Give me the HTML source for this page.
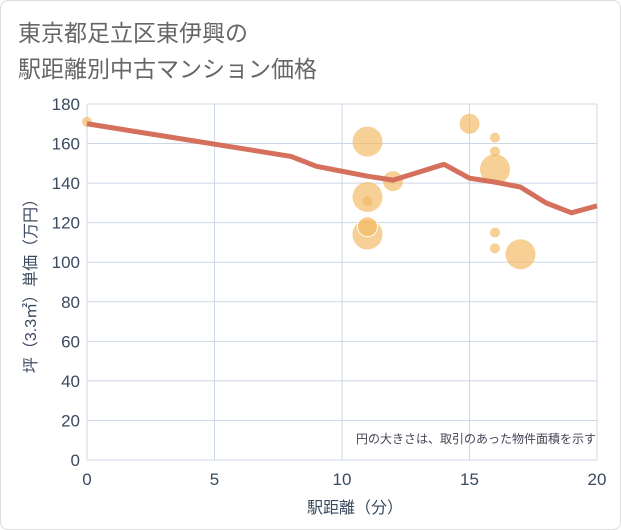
<!DOCTYPE html>
<html><head><meta charset="utf-8"><style>
body{margin:0;background:#fff;font-family:"Liberation Sans","Noto Sans CJK JP",sans-serif;}
#c{position:relative;width:619px;height:528px;border:1px solid #ddd;border-radius:8px;background:#fff;overflow:hidden}
</style></head><body>
<div id="c">
<svg width="621" height="530" id="s" style="position:absolute;left:-1px;top:-1px">
<text x="18" y="41" font-size="23" fill="#666">東京都足立区東伊興の</text>
<text x="18" y="77" font-size="23" fill="#666">駅距離別中古マンション価格</text>
<g id="grid"></g><g id="bubbles"></g><g id="line"></g><g id="axes"></g>
<text x="596" y="443" font-size="12" fill="#445" text-anchor="end">円の大きさは、取引のあった物件面積を示す</text>
<text x="355" y="513" font-size="16" fill="#3a4a60" text-anchor="middle">駅距離（分）</text>
<text transform="translate(36,282) rotate(-90)" font-size="16" fill="#3a4a60" text-anchor="middle">坪（3.3㎡）単価（万円）</text>
</svg></div>
<script>
const xTicks=[0,5,10,15,20];
const yTicks=[0,20,40,60,80,100,120,140,160,180];
const lineX=[0,1,2,3,4,5,6,7,8,9,10,11,12,13,14,15,16,17,18,19,20];
const lineY=[170,168.5,167,165.5,164,162,160,158,156,153.5,148.5,146,143.5,141.5,145.5,149.5,142.5,140.5,138,130,125,128.5];
const lineXs=[0,8,9,10,11,12,13,14,15,16,17,18,19,20];
const lineYs=[170,153.5,148.5,146,143.5,141.5,145.5,149.5,142.5,140.5,138,130,125,128.5];
const bubX=[0,11,11,11,11,11,12,15,16,16,16,16,16,17];
const bubY=[171,161,133,131,114,118,141,170,163,156,147,115,107,104];
const bubR=[5,15,15,5,15,10,10,10,5,5,15,5,5,15];
const NS="http://www.w3.org/2000/svg";
const X=v=>87+v*25.5, Y=v=>460-v*356/180;
function mk(t,a,p){const e=document.createElementNS(NS,t);for(const k in a)e.setAttribute(k,a[k]);p.appendChild(e);return e;}
const g=document.getElementById('grid'),ax=document.getElementById('axes');
yTicks.forEach(v=>{const l=mk('line',{x1:87,x2:597,y1:Y(v),y2:Y(v),stroke:'#cdd8e6','stroke-width':1},g);


const t=mk('text',{x:80,y:Y(v)+6,'font-size':17,fill:'#3a4a60','text-anchor':'end'},ax);t.textContent=v;

});
xTicks.forEach(v=>{const l=mk('line',{x1:X(v),x2:X(v),y1:104,y2:460,stroke:'#cdd8e6','stroke-width':1},g);


const t=mk('text',{x:X(v),y:485,'font-size':17,fill:'#3a4a60','text-anchor':'middle'},ax);t.textContent=v;

});
const b=document.getElementById('bubbles');
bubX.forEach((v,i)=>{const c=mk('circle',{cx:X(v),cy:Y(bubY[i]),r:bubR[i],fill:'#f3b75e','fill-opacity':0.65,stroke:bubR[i]==10&&v==11?'#fff':'none'},b);

});
const p=mk('polyline',{points:lineXs.map((v,i)=>X(v)+','+Y(lineYs[i])).join(' '),fill:'none',stroke:'#d4705c','stroke-width':5,'stroke-linejoin':'round'},document.getElementById('line'));


</script>
</body></html>
